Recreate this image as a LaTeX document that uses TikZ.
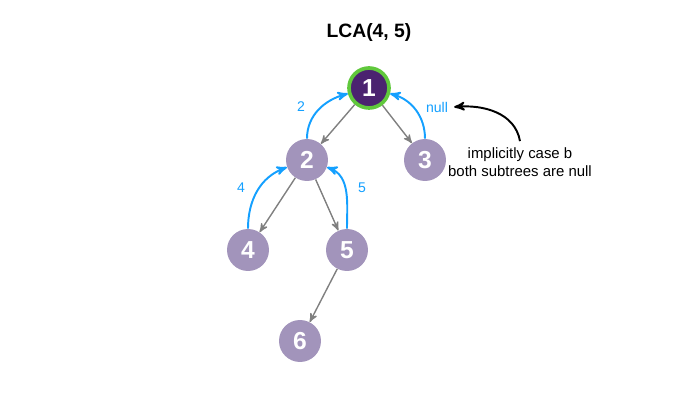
\documentclass[tikz,border=0pt]{standalone}
\usepackage{fontspec}
\setmainfont{Liberation Sans}
\usetikzlibrary{arrows}
\definecolor{lav}{RGB}{162,148,187}
\definecolor{deep}{RGB}{75,35,112}
\definecolor{ring}{RGB}{96,200,60}
\definecolor{sky}{RGB}{20,160,255}

\begin{document}
\begin{tikzpicture}[x=0.02cm,y=-0.02cm,
	vert/.style={circle,fill=lav,minimum size=0.84cm,inner sep=0pt,text=white,font=\fontsize{14}{14}\bfseries\selectfont},
	edge/.style={->,>=stealth',draw=gray,line width=0.8pt},
	back/.style={->,>=stealth',draw=sky,line width=1.1pt},
	lbl/.style={text=sky,font=\fontsize{8}{9}\selectfont}]
	\useasboundingbox (0,0) rectangle (674,402);
	\node[font=\fontsize{11}{12}\bfseries\selectfont] (title) at (369,33) {LCA(4, 5)};
	
	\node[vert,fill=deep,draw=ring,line width=2.1pt,minimum size=0.8cm] (n1) at (369,88) {1};
	\node[vert] (n2) at (307,160) {2};
	\node[vert] (n3) at (425,160) {3};
	\node[vert] (n4) at (248,250) {4};
	\node[vert] (n5) at (347,250) {5};
	\node[vert] (n6) at (300,341) {6};
	
	\draw[edge] (n1) -- (n2);
	\draw[edge] (n1) -- (n3);
	\draw[edge] (n2) -- (n4);
	\draw[edge] (n2) -- (n5);
	\draw[edge] (n5) -- (n6);
	
	% values passed back up
	\draw[back] (n2.north) to[out=90,in=195] (n1.195);
	\draw[back] (n3.north) to[out=90,in=-15] (n1.-15);
	\draw[back] (n4.north) to[out=90,in=200] (n2.200);
	\draw[back] (n5.north) to[out=90,in=-20] (n2.-20);
	
	\node[lbl] (l2) at (301,107) {2};
	\node[lbl] (lnull) at (437,107) {null};
	\node[lbl] (l4) at (241,188) {4};
	\node[lbl] (l5) at (362,188) {5};
	
	\node[align=center,font=\fontsize{8.5}{10.5}\selectfont] (note) at (520,162) {implicitly case b\\both subtrees are null};
	\draw[->,>=stealth',line width=1.1pt] (note.north) to[out=100,in=5] (lnull.east);
\end{tikzpicture}
\end{document}
